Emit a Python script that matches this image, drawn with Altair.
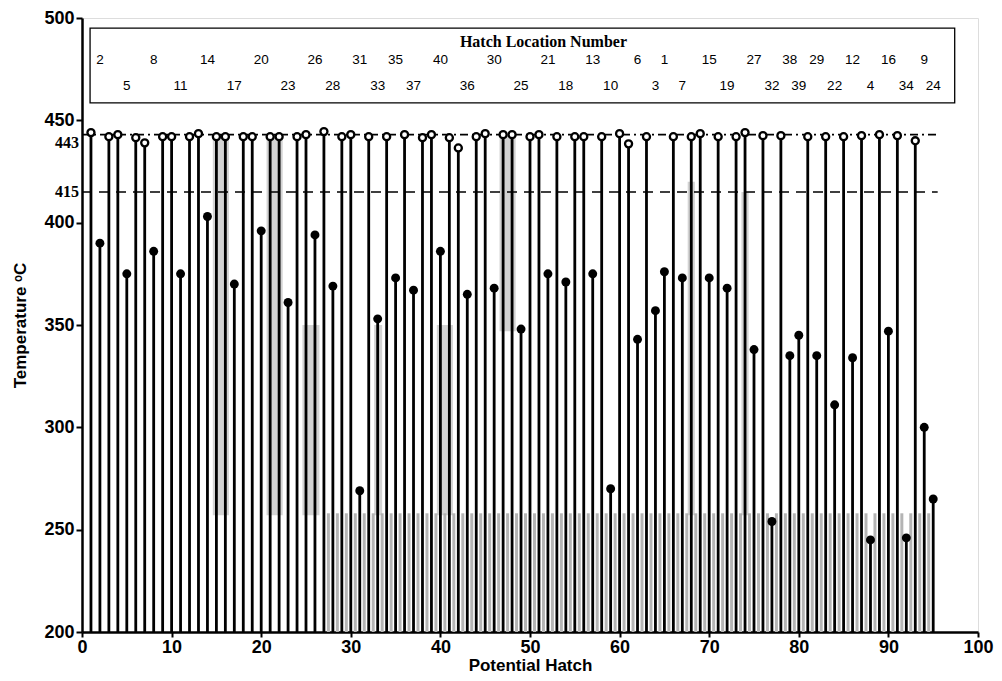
import altair as alt
import pandas as pd

# Stems that reach the upper limit (open circles)
open_x = [1, 3, 4, 6, 7, 9, 10, 12, 13, 15, 16, 18, 19, 21, 22, 24, 25, 27, 29, 30, 32, 34, 36, 38, 39,
          41, 42, 44, 45, 47, 48, 50, 51, 53, 55, 56, 58, 60, 61, 63, 66, 68, 69, 71, 73, 74, 76, 78,
          81, 83, 85, 87, 89, 91, 93]
open_t = [444, 442, 443, 441.5, 439, 442, 442, 442, 443.5, 442, 442, 442, 442, 442, 442, 442, 443, 444.5,
          442, 443, 442, 442, 443, 441.5, 443, 441.5, 436.5, 442, 443.5, 443, 443, 442, 443, 442, 442, 442,
          442, 443.5, 438.5, 442, 442, 442, 443.5, 442, 442, 444, 442.5, 442.5, 442, 442, 442, 442.5, 443,
          442.5, 440]

# Hatch stems (filled circles) and their hatch location numbers
hatch_x = [2, 5, 8, 11, 14, 17, 20, 23, 26, 28, 31, 33, 35, 37, 40, 43, 46, 49, 52, 54, 57, 59, 62, 64,
           65, 67, 70, 72, 75, 77, 79, 80, 82, 84, 86, 88, 90, 92, 94, 95]
hatch_t = [390, 375, 386, 375, 403, 370, 396, 361, 394, 369, 269, 353, 373, 367, 386, 365, 368, 348, 375,
           371, 375, 270, 343, 357, 376, 373, 373, 368, 338, 254, 335, 345, 335, 311, 334, 245, 347, 246,
           300, 265]
hatch_label = ["2", "5", "8", "11", "14", "17", "20", "23", "26", "28", "31", "33", "35", "37", "40",
               "36", "30", "25", "21", "18", "13", "10", "6", "3", "1", "7", "15", "19", "27", "32",
               "38", "39", "29", "22", "12", "4", "16", "34", "9", "24"]

# Reference temperatures
ref_t = [443, 415]
ref_label = ["443", "415"]

# faint gray bands of the scanned figure (x start, x end, temp low, temp high)
band_x1 = [14.6, 20.6, 46.6, 24.6, 32.6, 39.6, 67.6, 73.6]
band_x2 = [16.4, 22.4, 48.4, 26.5, 33.5, 41.4, 68.4, 74.4]
band_lo = [257, 257, 347, 257, 257, 257, 257, 257]
band_hi = [443, 443, 443, 350, 350, 350, 420, 415]
shade_x = [v + 0.5 for v in range(27, 95)]
shade_lo, shade_hi = 200, 258

BASE = 200
xs = alt.Scale(domain=[0, 100], nice=False, zero=False)
ys = alt.Scale(domain=[200, 500], nice=False, zero=False)

open_df = pd.DataFrame({"x": open_x, "t": open_t, "b": BASE})
hatch_df = pd.DataFrame({"x": hatch_x, "t": hatch_t, "b": BASE, "lab": hatch_label,
                         "row": [i % 2 for i in range(len(hatch_x))]})
hatch_df["ly"] = hatch_df["row"].map({0: 479.5, 1: 467})
stems_df = pd.concat([open_df, hatch_df[["x", "t", "b"]]], ignore_index=True)
band_df = pd.DataFrame({"x1": band_x1, "x2": band_x2, "lo": band_lo, "hi": band_hi})
shade_df = pd.DataFrame({"x": shade_x, "lo": shade_lo, "hi": shade_hi})
ref_df = pd.DataFrame({"t": ref_t, "lab": ref_label, "x0": 0, "x1": 95.5})
box_df = pd.DataFrame({"x1": [0.9], "x2": [97.4], "y1": [458.5], "y2": [495.1]})
title_df = pd.DataFrame({"x": [51.5], "y": [488.5], "lab": ["Hatch Location Number"]})

FONT = "Liberation Sans"

x_enc = alt.X("x:Q", scale=xs, axis=alt.Axis(
    values=list(range(0, 101, 10)), title="Potential Hatch", labelFont=FONT, labelFontSize=18,
    labelFontWeight="bold", titleFont=FONT, titleFontSize=17, titleFontWeight="bold",
    titleColor="black", labelColor="black", domainColor="black", domainWidth=2.5, tickColor="black",
    tickWidth=2, tickSize=5, labelPadding=1, titlePadding=1, grid=False, labelFlush=False))
y_enc = alt.Y("t:Q", scale=ys, axis=alt.Axis(
    values=list(range(200, 501, 50)), title="Temperature ᵒC", labelFont=FONT, labelFontSize=18,
    labelFontWeight="bold", titleFont=FONT, titleFontSize=17, titleFontWeight="bold",
    titleColor="black", labelColor="black", domainColor="black", domainWidth=2.5, tickColor="black",
    tickWidth=2, tickSize=6, labelPadding=2, titlePadding=14, grid=False, labelFlush=False))

bands = alt.Chart(band_df).mark_rect(color="#a8a8a8", opacity=0.5).encode(
    x=alt.X("x1:Q", scale=xs), x2="x2:Q", y=alt.Y("lo:Q", scale=ys), y2="hi:Q")
shade = alt.Chart(shade_df).mark_rule(color="#b4b4b4", strokeWidth=3).encode(
    x=alt.X("x:Q", scale=xs), y=alt.Y("lo:Q", scale=ys), y2="hi:Q")

stems = alt.Chart(stems_df).mark_rule(color="black", strokeWidth=2.8).encode(
    x=x_enc, y=y_enc, y2="b:Q")

ref443 = alt.Chart(ref_df[ref_df.t == 443]).mark_rule(
    color="black", strokeWidth=1.6, strokeDash=[8, 4, 2, 4]).encode(
    x=alt.X("x0:Q", scale=xs), x2="x1:Q", y=alt.Y("t:Q", scale=ys))
ref415 = alt.Chart(ref_df[ref_df.t == 415]).mark_rule(
    color="black", strokeWidth=1.6, strokeDash=[10, 7]).encode(
    x=alt.X("x0:Q", scale=xs), x2="x1:Q", y=alt.Y("t:Q", scale=ys))

open_pts = alt.Chart(open_df).mark_point(
    shape="circle", filled=False, color="black", fill="white", fillOpacity=1,
    size=50, strokeWidth=2.3, opacity=1).encode(
    x=alt.X("x:Q", scale=xs), y=alt.Y("t:Q", scale=ys))
hatch_pts = alt.Chart(hatch_df).mark_circle(color="black", size=80, opacity=1).encode(
    x=alt.X("x:Q", scale=xs), y=alt.Y("t:Q", scale=ys))

box = alt.Chart(box_df).mark_rect(fill="white", stroke="black", strokeWidth=1.3).encode(
    x=alt.X("x1:Q", scale=xs), x2="x2:Q", y=alt.Y("y1:Q", scale=ys), y2="y2:Q")
labels = alt.Chart(hatch_df).mark_text(font=FONT, fontSize=13.5, color="black").encode(
    x=alt.X("x:Q", scale=xs), y=alt.Y("ly:Q", scale=ys), text="lab:N")
box_title = alt.Chart(title_df).mark_text(
    font="Liberation Serif", fontSize=16, fontWeight="bold", color="black").encode(
    x=alt.X("x:Q", scale=xs), y=alt.Y("y:Q", scale=ys), text="lab:N")

lab443 = alt.Chart(ref_df[ref_df.t == 443]).mark_text(
    font="Liberation Serif", fontSize=16, fontWeight="bold", color="black", align="right",
    baseline="middle", dy=8).encode(
    x=alt.value(-3), y=alt.Y("t:Q", scale=ys), text="lab:N")
lab415 = alt.Chart(ref_df[ref_df.t == 415]).mark_text(
    font="Liberation Serif", fontSize=16, fontWeight="bold", color="black", align="right",
    baseline="middle").encode(
    x=alt.value(-3), y=alt.Y("t:Q", scale=ys), text="lab:N")

chart = alt.layer(
    shade, bands, stems, ref443, ref415, open_pts, hatch_pts, box, labels, box_title, lab443, lab415
).properties(
    width=896, height=614,
    autosize=alt.AutoSizeParams(type="none"),
    padding={"left": 74, "top": 10, "right": 16, "bottom": 41},
).configure_view(stroke=None).configure(background="white")

chart.save("out.html", embed_options={"renderer": "svg", "actions": False})
